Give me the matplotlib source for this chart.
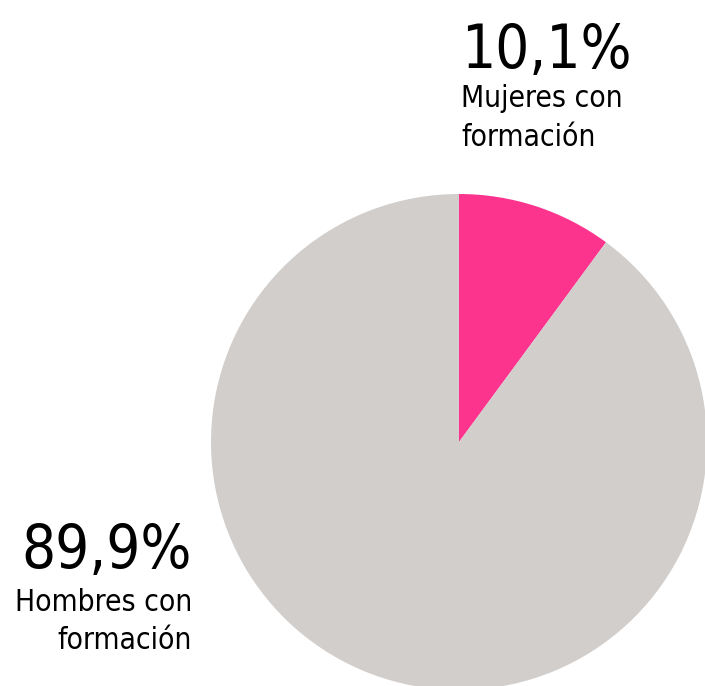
import matplotlib.pyplot as plt

etiquetas = ['Mujeres con\nformación', 'Hombres con\nformación']
porcentajes = [10.1, 89.9]
textos_pct = ['10,1%', '89,9%']
colores = ['#FC348E', '#D1CECC']

W, H = 705, 686
fig = plt.figure(figsize=(W / 100, H / 100), dpi=100)
ax = fig.add_axes([0, 0, 1, 1])

ax.pie(porcentajes, colors=colores, startangle=90, counterclock=False,
       center=(459, H - 442), radius=248, frame=True,
       wedgeprops=dict(linewidth=0))
ax.set_xlim(0, W)
ax.set_ylim(0, H)
ax.axis('off')

fuente = dict(family='DejaVu Sans', stretch='condensed', color='black')

# mujeres (arriba a la derecha)
ax.text(461, H - 68, textos_pct[0], fontsize=43, ha='left', va='baseline', **fuente)
ax.text(461, H - 107, 'Mujeres con', fontsize=21.5, ha='left', va='baseline', **fuente)
ax.text(461, H - 146, 'formación', fontsize=21.5, ha='left', va='baseline', **fuente)

# hombres (abajo a la izquierda)
ax.text(192, H - 568, textos_pct[1], fontsize=43, ha='right', va='baseline', **fuente)
ax.text(192, H - 611, 'Hombres con', fontsize=21.5, ha='right', va='baseline', **fuente)
ax.text(192, H - 649, 'formación', fontsize=21.5, ha='right', va='baseline', **fuente)

fig.savefig('out.png', dpi=100)
